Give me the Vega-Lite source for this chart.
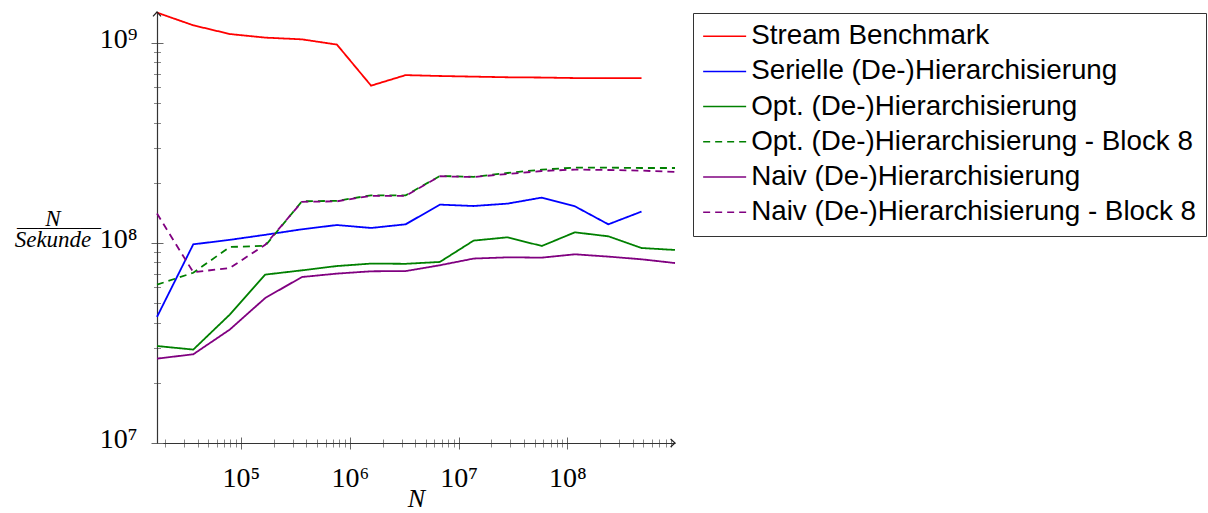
{
  "$schema": "https://vega.github.io/schema/vega-lite/v6.json",
  "width": 518,
  "height": 431,
  "autosize": {"type": "none"},
  "padding": {"left": 157, "top": 12, "right": 533, "bottom": 70},
  "background": "white",
  "config": {
    "view": {"stroke": null},
    "axis": {"grid": false, "labelFlush": false, "labelOverlap": false},
    "legend": {
      "strokeColor": "#333",
      "fillColor": "white",
      "padding": 9.3,
      "labelFont": "Liberation Sans",
      "labelFontSize": 27.8,
      "labelColor": "black",
      "labelLimit": 1000,
      "labelOffset": 12.6,
      "symbolType": "M-2,0H2",
      "symbolSize": 462,
      "symbolOffset": 8.45,
      "symbolStrokeWidth": 1.5,
      "rowPadding": 6.2
    }
  },
  "datasets": {
    "series": [
      {"s": "Stream Benchmark", "N": 16920, "v": 1.419e9},
      {"s": "Stream Benchmark", "N": 36460, "v": 1.226e9},
      {"s": "Stream Benchmark", "N": 78910, "v": 1.109e9},
      {"s": "Stream Benchmark", "N": 167200, "v": 1.064e9},
      {"s": "Stream Benchmark", "N": 363400, "v": 1.043e9},
      {"s": "Stream Benchmark", "N": 761700, "v": 9.82e8},
      {"s": "Stream Benchmark", "N": 1570000, "v": 6.12e8},
      {"s": "Stream Benchmark", "N": 3264000, "v": 6.91e8},
      {"s": "Stream Benchmark", "N": 6729000, "v": 6.84e8},
      {"s": "Stream Benchmark", "N": 13750000, "v": 6.79e8},
      {"s": "Stream Benchmark", "N": 28280000, "v": 6.74e8},
      {"s": "Stream Benchmark", "N": 58180000, "v": 6.72e8},
      {"s": "Stream Benchmark", "N": 117200000, "v": 6.68e8},
      {"s": "Stream Benchmark", "N": 238000000, "v": 6.68e8},
      {"s": "Stream Benchmark", "N": 480300000, "v": 6.68e8},

      {"s": "Serielle (De-)Hierarchisierung", "N": 16920, "v": 4.27e7},
      {"s": "Serielle (De-)Hierarchisierung", "N": 36460, "v": 9.85e7},
      {"s": "Serielle (De-)Hierarchisierung", "N": 78910, "v": 1.037e8},
      {"s": "Serielle (De-)Hierarchisierung", "N": 167200, "v": 1.099e8},
      {"s": "Serielle (De-)Hierarchisierung", "N": 363400, "v": 1.171e8},
      {"s": "Serielle (De-)Hierarchisierung", "N": 761700, "v": 1.23e8},
      {"s": "Serielle (De-)Hierarchisierung", "N": 1570000, "v": 1.189e8},
      {"s": "Serielle (De-)Hierarchisierung", "N": 3264000, "v": 1.24e8},
      {"s": "Serielle (De-)Hierarchisierung", "N": 6729000, "v": 1.556e8},
      {"s": "Serielle (De-)Hierarchisierung", "N": 13750000, "v": 1.531e8},
      {"s": "Serielle (De-)Hierarchisierung", "N": 28280000, "v": 1.574e8},
      {"s": "Serielle (De-)Hierarchisierung", "N": 58180000, "v": 1.687e8},
      {"s": "Serielle (De-)Hierarchisierung", "N": 117200000, "v": 1.526e8},
      {"s": "Serielle (De-)Hierarchisierung", "N": 238000000, "v": 1.24e8},
      {"s": "Serielle (De-)Hierarchisierung", "N": 480300000, "v": 1.436e8},

      {"s": "Opt. (De-)Hierarchisierung", "N": 16920, "v": 3.055e7},
      {"s": "Opt. (De-)Hierarchisierung", "N": 36460, "v": 2.931e7},
      {"s": "Opt. (De-)Hierarchisierung", "N": 78910, "v": 4.385e7},
      {"s": "Opt. (De-)Hierarchisierung", "N": 167200, "v": 6.95e7},
      {"s": "Opt. (De-)Hierarchisierung", "N": 363400, "v": 7.3e7},
      {"s": "Opt. (De-)Hierarchisierung", "N": 761700, "v": 7.67e7},
      {"s": "Opt. (De-)Hierarchisierung", "N": 1570000, "v": 7.89e7},
      {"s": "Opt. (De-)Hierarchisierung", "N": 3264000, "v": 7.87e7},
      {"s": "Opt. (De-)Hierarchisierung", "N": 6729000, "v": 8.04e7},
      {"s": "Opt. (De-)Hierarchisierung", "N": 13750000, "v": 1.028e8},
      {"s": "Opt. (De-)Hierarchisierung", "N": 28280000, "v": 1.068e8},
      {"s": "Opt. (De-)Hierarchisierung", "N": 58180000, "v": 9.66e7},
      {"s": "Opt. (De-)Hierarchisierung", "N": 117200000, "v": 1.131e8},
      {"s": "Opt. (De-)Hierarchisierung", "N": 238000000, "v": 1.08e8},
      {"s": "Opt. (De-)Hierarchisierung", "N": 480300000, "v": 9.44e7},
      {"s": "Opt. (De-)Hierarchisierung", "N": 975400000, "v": 9.23e7},

      {"s": "Opt. (De-)Hierarchisierung - Block 8", "N": 16920, "v": 6.19e7},
      {"s": "Opt. (De-)Hierarchisierung - Block 8", "N": 36460, "v": 7.1e7},
      {"s": "Opt. (De-)Hierarchisierung - Block 8", "N": 78910, "v": 9.55e7},
      {"s": "Opt. (De-)Hierarchisierung - Block 8", "N": 167200, "v": 9.68e7},
      {"s": "Opt. (De-)Hierarchisierung - Block 8", "N": 363400, "v": 1.616e8},
      {"s": "Opt. (De-)Hierarchisierung - Block 8", "N": 761700, "v": 1.625e8},
      {"s": "Opt. (De-)Hierarchisierung - Block 8", "N": 1570000, "v": 1.732e8},
      {"s": "Opt. (De-)Hierarchisierung - Block 8", "N": 3264000, "v": 1.732e8},
      {"s": "Opt. (De-)Hierarchisierung - Block 8", "N": 6729000, "v": 2.163e8},
      {"s": "Opt. (De-)Hierarchisierung - Block 8", "N": 13750000, "v": 2.143e8},
      {"s": "Opt. (De-)Hierarchisierung - Block 8", "N": 28280000, "v": 2.239e8},
      {"s": "Opt. (De-)Hierarchisierung - Block 8", "N": 58180000, "v": 2.328e8},
      {"s": "Opt. (De-)Hierarchisierung - Block 8", "N": 117200000, "v": 2.382e8},
      {"s": "Opt. (De-)Hierarchisierung - Block 8", "N": 238000000, "v": 2.382e8},
      {"s": "Opt. (De-)Hierarchisierung - Block 8", "N": 480300000, "v": 2.371e8},
      {"s": "Opt. (De-)Hierarchisierung - Block 8", "N": 975400000, "v": 2.371e8},

      {"s": "Naiv (De-)Hierarchisierung", "N": 16920, "v": 2.642e7},
      {"s": "Naiv (De-)Hierarchisierung", "N": 36460, "v": 2.777e7},
      {"s": "Naiv (De-)Hierarchisierung", "N": 78910, "v": 3.69e7},
      {"s": "Naiv (De-)Hierarchisierung", "N": 167200, "v": 5.31e7},
      {"s": "Naiv (De-)Hierarchisierung", "N": 363400, "v": 6.76e7},
      {"s": "Naiv (De-)Hierarchisierung", "N": 761700, "v": 7.03e7},
      {"s": "Naiv (De-)Hierarchisierung", "N": 1570000, "v": 7.22e7},
      {"s": "Naiv (De-)Hierarchisierung", "N": 3264000, "v": 7.24e7},
      {"s": "Naiv (De-)Hierarchisierung", "N": 6729000, "v": 7.74e7},
      {"s": "Naiv (De-)Hierarchisierung", "N": 13750000, "v": 8.36e7},
      {"s": "Naiv (De-)Hierarchisierung", "N": 28280000, "v": 8.48e7},
      {"s": "Naiv (De-)Hierarchisierung", "N": 58180000, "v": 8.45e7},
      {"s": "Naiv (De-)Hierarchisierung", "N": 117200000, "v": 8.78e7},
      {"s": "Naiv (De-)Hierarchisierung", "N": 238000000, "v": 8.55e7},
      {"s": "Naiv (De-)Hierarchisierung", "N": 480300000, "v": 8.29e7},
      {"s": "Naiv (De-)Hierarchisierung", "N": 975400000, "v": 7.94e7},

      {"s": "Naiv (De-)Hierarchisierung - Block 8", "N": 16920, "v": 1.403e8},
      {"s": "Naiv (De-)Hierarchisierung - Block 8", "N": 36460, "v": 7.14e7},
      {"s": "Naiv (De-)Hierarchisierung - Block 8", "N": 78910, "v": 7.5e7},
      {"s": "Naiv (De-)Hierarchisierung - Block 8", "N": 167200, "v": 9.8e7},
      {"s": "Naiv (De-)Hierarchisierung - Block 8", "N": 363400, "v": 1.607e8},
      {"s": "Naiv (De-)Hierarchisierung - Block 8", "N": 761700, "v": 1.616e8},
      {"s": "Naiv (De-)Hierarchisierung - Block 8", "N": 1570000, "v": 1.722e8},
      {"s": "Naiv (De-)Hierarchisierung - Block 8", "N": 3264000, "v": 1.722e8},
      {"s": "Naiv (De-)Hierarchisierung - Block 8", "N": 6729000, "v": 2.156e8},
      {"s": "Naiv (De-)Hierarchisierung - Block 8", "N": 13750000, "v": 2.138e8},
      {"s": "Naiv (De-)Hierarchisierung - Block 8", "N": 28280000, "v": 2.213e8},
      {"s": "Naiv (De-)Hierarchisierung - Block 8", "N": 58180000, "v": 2.291e8},
      {"s": "Naiv (De-)Hierarchisierung - Block 8", "N": 117200000, "v": 2.328e8},
      {"s": "Naiv (De-)Hierarchisierung - Block 8", "N": 238000000, "v": 2.317e8},
      {"s": "Naiv (De-)Hierarchisierung - Block 8", "N": 480300000, "v": 2.301e8},
      {"s": "Naiv (De-)Hierarchisierung - Block 8", "N": 975400000, "v": 2.265e8}
    ],
    "arrowUp": [{"N": 16920, "v": 1.429e9}],
    "arrowRight": [{"N": 975400000, "v": 1e7}]
  },
  "layer": [
    {
      "data": {"name": "series"},
      "mark": {"type": "line", "strokeWidth": 1.8, "clip": false},
      "encoding": {
        "x": {
          "field": "N", "type": "quantitative",
          "scale": {"type": "log", "domain": [16920, 975400000], "nice": false},
          "axis": {
            "orient": "bottom", "title": null, "domain": false,
            "values": [100000, 1000000, 10000000, 100000000],
            "labelExpr": "'10' + ['⁰','¹','²','³','⁴','⁵','⁶','⁷','⁸','⁹'][round(log(datum.value)/LN10)]",
            "tickSize": 12, "offset": -6, "tickColor": "#666", "tickWidth": 1,
            "labelFont": "Liberation Serif", "labelFontSize": 28, "labelColor": "black",
            "labelPadding": 15
          }
        },
        "y": {
          "field": "v", "type": "quantitative",
          "scale": {"type": "log", "domain": [10000000, 1429000000], "nice": false},
          "axis": {
            "orient": "left", "domain": false,
            "values": [10000000, 100000000, 1000000000],
            "labelExpr": "'10' + ['⁰','¹','²','³','⁴','⁵','⁶','⁷','⁸','⁹'][round(log(datum.value)/LN10)]",
            "tickSize": 12, "offset": -6, "tickColor": "#666", "tickWidth": 1,
            "labelFont": "Liberation Serif", "labelFontSize": 28, "labelColor": "black",
            "labelPadding": 14, "labelBaseline": "alphabetic", "labelOffset": 4,
            "title": "————", "titleFont": "Liberation Serif", "titleFontStyle": "normal", "titleFontWeight": "normal",
            "titleFontSize": 21, "titleColor": "black", "titleAngle": 0, "titleAlign": "center", "titleBaseline": "alphabetic",
            "titleX": -104.5, "titleY": 221.3
          }
        },
        "color": {
          "field": "s", "type": "nominal",
          "scale": {
            "domain": ["Stream Benchmark", "Serielle (De-)Hierarchisierung", "Opt. (De-)Hierarchisierung", "Opt. (De-)Hierarchisierung - Block 8", "Naiv (De-)Hierarchisierung", "Naiv (De-)Hierarchisierung - Block 8"],
            "range": ["#ff0000", "#0000ff", "#008000", "#008000", "#800080", "#800080"]
          },
          "legend": {"title": null, "orient": "none", "legendX": 536, "legendY": 1}
        },
        "strokeDash": {
          "field": "s", "type": "nominal",
          "scale": {
            "domain": ["Stream Benchmark", "Serielle (De-)Hierarchisierung", "Opt. (De-)Hierarchisierung", "Opt. (De-)Hierarchisierung - Block 8", "Naiv (De-)Hierarchisierung", "Naiv (De-)Hierarchisierung - Block 8"],
            "range": [[1, 0], [1, 0], [1, 0], [7, 5], [1, 0], [7, 5]]
          },
          "legend": {"title": null, "orient": "none", "legendX": 536, "legendY": 1}
        }
      }
    },
    {
      "data": {"name": "arrowUp"},
      "mark": {"type": "point", "shape": "M-1,1.1L0,0L1,1.1", "filled": false, "stroke": "#222", "strokeWidth": 1.2, "size": 64, "opacity": 1, "clip": false},
      "encoding": {
        "x": {
          "field": "N", "type": "quantitative",
          "scale": {"type": "log", "domain": [16920, 975400000], "nice": false},
          "axis": {
            "orient": "bottom", "title": null, "domain": false, "labels": false,
            "values": [20000, 30000, 40000, 50000, 60000, 70000, 80000, 90000, 200000, 300000, 400000, 500000, 600000, 700000, 800000, 900000, 2000000, 3000000, 4000000, 5000000, 6000000, 7000000, 8000000, 9000000, 20000000, 30000000, 40000000, 50000000, 60000000, 70000000, 80000000, 90000000, 200000000, 300000000, 400000000, 500000000, 600000000, 700000000, 800000000, 900000000],
            "tickSize": 8, "offset": -4, "tickColor": "#888", "tickWidth": 1
          }
        },
        "y": {
          "field": "v", "type": "quantitative",
          "scale": {"type": "log", "domain": [10000000, 1429000000], "nice": false},
          "axis": {
            "orient": "left", "title": null, "domain": false, "labels": false,
            "values": [20000000, 30000000, 40000000, 50000000, 60000000, 70000000, 80000000, 90000000, 200000000, 300000000, 400000000, 500000000, 600000000, 700000000, 800000000, 900000000],
            "tickSize": 7, "offset": -3.5, "tickColor": "#888", "tickWidth": 1
          }
        }
      }
    },
    {
      "data": {"name": "arrowRight"},
      "mark": {"type": "point", "shape": "M-1.1,-1L0,0L-1.1,1", "filled": false, "stroke": "#222", "strokeWidth": 1.2, "size": 64, "opacity": 1, "clip": false},
      "encoding": {
        "x": {
          "field": "N", "type": "quantitative",
          "scale": {"type": "log", "domain": [16920, 975400000], "nice": false},
          "axis": {
            "orient": "bottom", "domain": true, "ticks": false, "labels": false,
            "domainColor": "#333", "domainWidth": 1.2,
            "title": "N", "titleFont": "Liberation Serif", "titleFontStyle": "italic", "titleFontWeight": "normal",
            "titleFontSize": 26, "titleColor": "black", "titleBaseline": "alphabetic", "titleY": 63, "titleX": 259, "titleAlign": "center"
          }
        },
        "y": {
          "field": "v", "type": "quantitative",
          "scale": {"type": "log", "domain": [10000000, 1429000000], "nice": false},
          "axis": {
            "orient": "left", "domain": true, "ticks": false, "labels": false,
            "domainColor": "#333", "domainWidth": 1.2,
            "title": ["N", "Sekunde"], "titleFont": "Liberation Serif", "titleFontStyle": "italic", "titleFontWeight": "normal",
            "titleFontSize": 23, "titleColor": "black", "titleAngle": 0, "titleAlign": "center", "titleBaseline": "alphabetic",
            "titleX": -104.5, "titleY": 213, "titleLineHeight": 21.7
          }
        }
      }
    }
  ],
  "resolve": {"axis": {"x": "independent", "y": "independent"}}
}
